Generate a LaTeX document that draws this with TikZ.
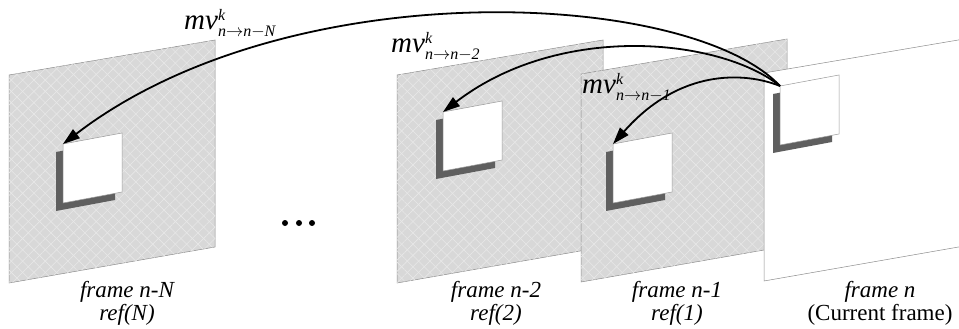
\documentclass[tikz,border=0pt]{standalone}
\usepackage{fontspec}
\setmainfont{Liberation Serif}
\usetikzlibrary{arrows.meta,patterns.meta}
\definecolor{framegray}{HTML}{D8D8D8}
\definecolor{hatchline}{HTML}{E8E8E8}
\definecolor{shadowgray}{HTML}{5F5F5F}
\newcommand\mvsub[1]{\hbox{\fontsize{16}{16}\selectfont\itshape #1}}
\begin{document}
\begin{tikzpicture}[x=1pt,y=-1pt,
  frm/.style={draw=gray!90,line width=.5pt},
  hatch/.style={fill=framegray,
    postaction={pattern={Lines[angle=45,distance=8pt,line width=.6pt]},pattern color=hatchline},
    postaction={pattern={Lines[angle=-45,distance=8pt,line width=.6pt]},pattern color=hatchline}},
  blk/.style={fill=white,draw=gray!80,line width=.5pt},
  blkshadow/.style={fill=shadowgray},
  mvarrow/.style={-{Triangle[length=17pt,width=11pt]},line width=1.8pt},
  mvlbl/.style={font=\fontsize{29}{30}\selectfont,inner sep=0pt},
  lbl/.style={font=\fontsize{23}{20}\selectfont\itshape,align=center,inner sep=0pt}]
 \useasboundingbox (0,0) rectangle (959,329);
 \clip (0,0) rectangle (959,329);
 % reference frames with the matching block
 \foreach \fx/\fy/\bx/\by/\nm in {9/75/54/69/N, 397/75/46/37/two, 581/74/32/70/one}{
  \filldraw[frm,hatch] (\fx,\fy) -- ++(206,-35) -- ++(0,207) -- ++(-206,36) -- cycle;
  \coordinate (blk\nm) at (\fx+\bx,\fy+\by);
  \begin{scope}[shift={(blk\nm)}]
   \fill[blkshadow] (-7,8) -- ++(59,-11) -- ++(0,59) -- ++(-59,11) -- cycle;
   \filldraw[blk] (0,0) -- (59,-11) -- (59,48) -- (0,59) -- cycle;
  \end{scope}
 }
 % current frame
 \filldraw[frm,fill=white] (764,73) -- (970,38) -- (970,245) -- (764,281) -- cycle;
 \coordinate (blkcur) at (780,86);
 \begin{scope}[shift={(blkcur)}]
  \fill[blkshadow] (-7,8) -- ++(59,-11) -- ++(0,59) -- ++(-59,11) -- cycle;
  \filldraw[blk] (0,0) -- (59,-11) -- (59,48) -- (0,59) -- cycle;
 \end{scope}
 % motion vectors
 \draw[mvarrow] (blkcur) .. controls (690,-10) and (290,-30) .. (blkN);
 \draw[mvarrow] (blkcur) .. controls (720,38) and (560,22) .. (blktwo);
 \draw[mvarrow] (blkcur) .. controls (745,72) and (680,68) .. (blkone);
 \node[mvlbl,anchor=base west] (mvN) at (184,30) {$\textit{mv}^{\mvsub{k}}_{\mvsub{n$\rightarrow$n$-$N}}$};
 \node[mvlbl,anchor=base west] (mvtwo) at (391,53) {$\textit{mv}^{\mvsub{k}}_{\mvsub{n$\rightarrow$n$-$2}}$};
 \node[mvlbl,anchor=base west] (mvone) at (582,94) {$\textit{mv}^{\mvsub{k}}_{\mvsub{n$\rightarrow$n$-$1}}$};
 % dots
 \foreach \dx in {285,299,312} \fill (\dx,223) circle (3);
 % captions
 \node[lbl,anchor=base] (capN) at (127,320) {frame n-N\\ref(N)};
 \node[lbl,anchor=base] (captwo) at (496,320) {frame n-2\\ref(2)};
 \node[lbl,anchor=base] (capone) at (677,320) {frame n-1\\ref(1)};
 \node[lbl,anchor=base] (capcur) at (880,320) {frame n\\\upshape(Current frame)};
\end{tikzpicture}
\end{document}
